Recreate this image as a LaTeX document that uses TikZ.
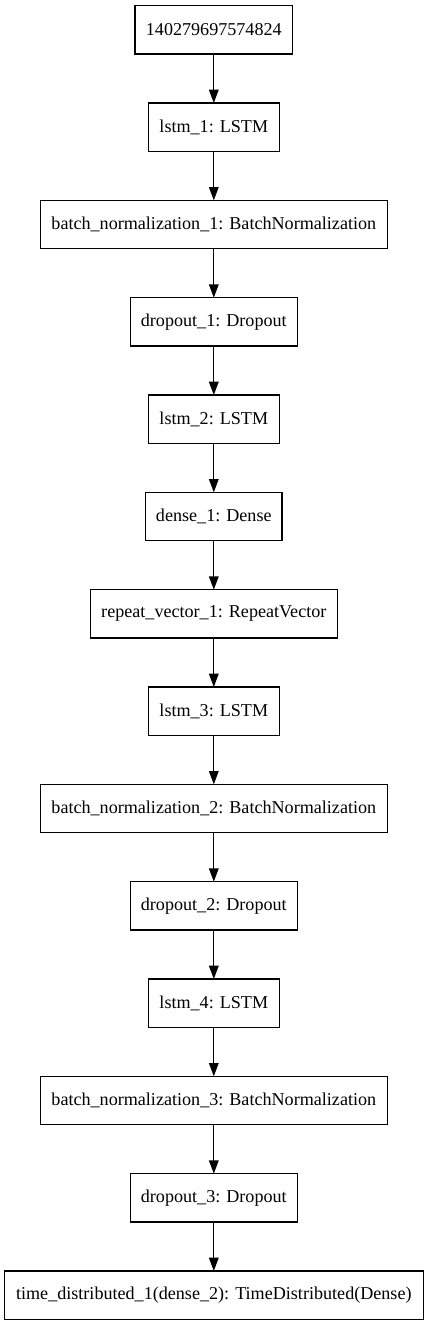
\documentclass[tikz,border=0pt]{standalone}
\usepackage{fontspec}
\setmainfont{Liberation Serif}
\usetikzlibrary{arrows.meta}
\begin{document}
\begin{tikzpicture}[x=1pt,y=-1pt,
  layer/.style={draw=black, line width=1.3pt, inner sep=0pt, outer sep=0pt,
    minimum height=48.3pt, font=\fontsize{18.1}{22}\selectfont, fill=white},
  conn/.style={draw=black, line width=1.3pt,
    -{Triangle[length=13.3pt,width=9.6pt]}}]
\useasboundingbox[fill=white] (0,0) rectangle (428,1325);
\def\cx{213.8}
\node[layer, minimum width=157.7pt] (n1) at (\cx, 29.85) {140279697574824};
\node[layer, minimum width=131pt] (n2) at (\cx, 127.18) {lstm\_1: LSTM};
\node[layer, minimum width=347pt] (n3) at (\cx, 224.51) {batch\_normalization\_1: BatchNormalization};
\node[layer, minimum width=167pt] (n4) at (\cx, 321.84) {dropout\_1: Dropout};
\node[layer, minimum width=131pt] (n5) at (\cx, 419.17) {lstm\_2: LSTM};
\node[layer, minimum width=136.3pt] (n6) at (\cx, 516.5) {dense\_1: Dense};
\node[layer, minimum width=247pt] (n7) at (\cx, 613.83) {repeat\_vector\_1: RepeatVector};
\node[layer, minimum width=131pt] (n8) at (\cx, 711.16) {lstm\_3: LSTM};
\node[layer, minimum width=347pt] (n9) at (\cx, 808.49) {batch\_normalization\_2: BatchNormalization};
\node[layer, minimum width=167pt] (n10) at (\cx, 905.82) {dropout\_2: Dropout};
\node[layer, minimum width=131pt] (n11) at (\cx, 1003.15) {lstm\_4: LSTM};
\node[layer, minimum width=347pt] (n12) at (\cx, 1100.48) {batch\_normalization\_3: BatchNormalization};
\node[layer, minimum width=167pt] (n13) at (\cx, 1197.81) {dropout\_3: Dropout};
\node[layer, minimum width=419.3pt] (n14) at (\cx, 1295.14) {time\_distributed\_1(dense\_2): TimeDistributed(Dense)};
\foreach \a/\b in {n1/n2,n2/n3,n3/n4,n4/n5,n5/n6,n6/n7,n7/n8,n8/n9,n9/n10,n10/n11,n11/n12,n12/n13,n13/n14}
  \draw[conn] (\a.south) -- (\b.north);
\end{tikzpicture}
\end{document}
